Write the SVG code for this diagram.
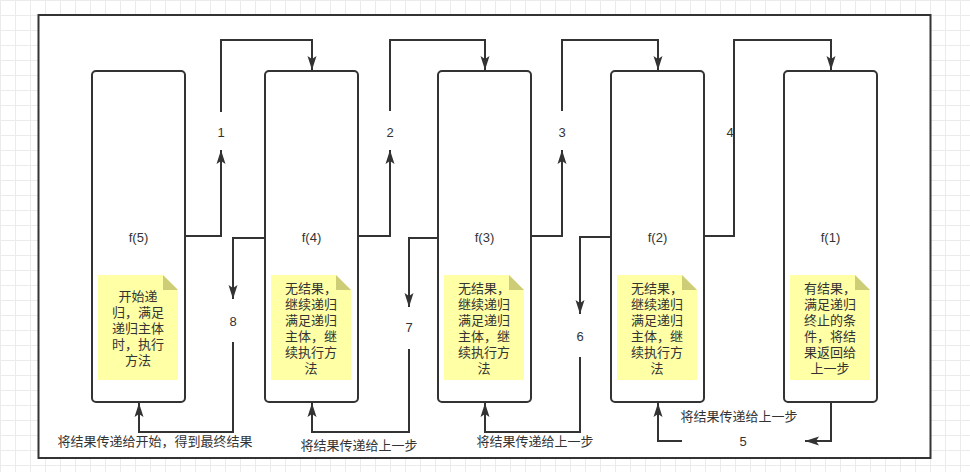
<svg xmlns="http://www.w3.org/2000/svg" width="970" height="472" viewBox="0 0 970 472">
<defs>
<pattern id="grid" width="15" height="15" patternUnits="userSpaceOnUse">
<path d="M0.5,0 V15 M0,0.5 H15" fill="none" stroke="#ebebeb" stroke-width="1"/>
</pattern>
<marker id="arr" viewBox="0 0 15 10" markerWidth="15" markerHeight="10" refX="14" refY="5" orient="auto" markerUnits="userSpaceOnUse">
<path d="M0,0.5 L14,5 L0,9.5 L3,5 Z" fill="#333333"/>
</marker>
</defs>
<style>
.node{fill:#ffffff;stroke:#333333;stroke-width:2}
.note{fill:#ffffa6}
.fold{fill:#cdcd78}
.edge{fill:none;stroke:#333333;stroke-width:2}
.t{font-family:"Liberation Sans","Noto Sans CJK SC",sans-serif;font-size:13px;fill:#333333;text-anchor:middle}
</style>
<rect width="970" height="472" fill="#ffffff"/>
<rect width="970" height="472" fill="url(#grid)"/>
<rect x="38.5" y="15" width="892" height="443" fill="#ffffff" stroke="#333333" stroke-width="2"/>

<g id="f5">
<rect class="node" x="92" y="71" width="93" height="331" rx="4"/>
<text class="t" x="138.5" y="242">f(5)</text>
<path class="note" d="M98,275 H163 L178,290 V380 H98 Z"/>
<path class="fold" d="M163,275 V290 H178 Z"/>
<text class="t" x="138" y="301">开始递</text>
<text class="t" x="138" y="317">归，满足</text>
<text class="t" x="138" y="333">递归主体</text>
<text class="t" x="138" y="349">时，执行</text>
<text class="t" x="138" y="365">方法</text>
</g>

<g id="f4">
<rect class="node" x="265" y="71" width="93" height="331" rx="4"/>
<text class="t" x="311.5" y="242">f(4)</text>
<path class="note" d="M271,275 H336 L351,290 V380 H271 Z"/>
<path class="fold" d="M336,275 V290 H351 Z"/>
<text class="t" x="311" y="293">无结果，</text>
<text class="t" x="311" y="309">继续递归</text>
<text class="t" x="311" y="325">满足递归</text>
<text class="t" x="311" y="341">主体，继</text>
<text class="t" x="311" y="357">续执行方</text>
<text class="t" x="311" y="373">法</text>
</g>

<g id="f3">
<rect class="node" x="438" y="71" width="93" height="331" rx="4"/>
<text class="t" x="484.5" y="242">f(3)</text>
<path class="note" d="M444,275 H509 L524,290 V380 H444 Z"/>
<path class="fold" d="M509,275 V290 H524 Z"/>
<text class="t" x="484" y="293">无结果，</text>
<text class="t" x="484" y="309">继续递归</text>
<text class="t" x="484" y="325">满足递归</text>
<text class="t" x="484" y="341">主体，继</text>
<text class="t" x="484" y="357">续执行方</text>
<text class="t" x="484" y="373">法</text>
</g>

<g id="f2">
<rect class="node" x="611" y="71" width="93" height="331" rx="4"/>
<text class="t" x="657.5" y="242">f(2)</text>
<path class="note" d="M617,275 H682 L697,290 V380 H617 Z"/>
<path class="fold" d="M682,275 V290 H697 Z"/>
<text class="t" x="657" y="293">无结果，</text>
<text class="t" x="657" y="309">继续递归</text>
<text class="t" x="657" y="325">满足递归</text>
<text class="t" x="657" y="341">主体，继</text>
<text class="t" x="657" y="357">续执行方</text>
<text class="t" x="657" y="373">法</text>
</g>

<g id="f1">
<rect class="node" x="784" y="71" width="93" height="331" rx="4"/>
<text class="t" x="830.5" y="242">f(1)</text>
<path class="note" d="M790,275 H855 L870,290 V380 H790 Z"/>
<path class="fold" d="M855,275 V290 H870 Z"/>
<text class="t" x="830" y="293">有结果，</text>
<text class="t" x="830" y="309">满足递归</text>
<text class="t" x="830" y="325">终止的条</text>
<text class="t" x="830" y="341">件，将结</text>
<text class="t" x="830" y="357">果返回给</text>
<text class="t" x="830" y="373">上一步</text>
</g>

<g id="connectors">
<path class="edge" d="M185,236 H221 V150" marker-end="url(#arr)"/>
<path class="edge" d="M221,112 V40 H312 V70" marker-end="url(#arr)"/>
<text class="t" x="221" y="136.5">1</text>

<path class="edge" d="M358,236 H390 V150" marker-end="url(#arr)"/>
<path class="edge" d="M390,111 V40 H485 V70" marker-end="url(#arr)"/>
<text class="t" x="390" y="136.5">2</text>

<path class="edge" d="M531,236 H562 V150" marker-end="url(#arr)"/>
<path class="edge" d="M562,111 V40 H658 V70" marker-end="url(#arr)"/>
<text class="t" x="562" y="136.5">3</text>

<path class="edge" d="M704,236 H734 V40 H831 V70" marker-end="url(#arr)"/>
<text class="t" x="730" y="136.5">4</text>

<path class="edge" d="M831,402 V441 H805" marker-end="url(#arr)"/>
<path class="edge" d="M682,441 H658 V403" marker-end="url(#arr)"/>
<text class="t" x="743" y="445.5">5</text>
<text class="t" x="739" y="420.5">将结果传递给上一步</text>

<path class="edge" d="M611,237 H580 V314" marker-end="url(#arr)"/>
<path class="edge" d="M580,357 V432 H485 V403" marker-end="url(#arr)"/>
<text class="t" x="580" y="340.5">6</text>
<text class="t" x="535" y="445.5">将结果传递给上一步</text>

<path class="edge" d="M438,238 H409 V307" marker-end="url(#arr)"/>
<path class="edge" d="M409,349 V432 H312 V403" marker-end="url(#arr)"/>
<text class="t" x="409" y="332">7</text>
<text class="t" x="359" y="449.5">将结果传递给上一步</text>

<path class="edge" d="M265,238 H233 V299" marker-end="url(#arr)"/>
<path class="edge" d="M233,342 V432 H139 V403" marker-end="url(#arr)"/>
<text class="t" x="233" y="325.5">8</text>
<text class="t" x="155" y="446">将结果传递给开始，得到最终结果</text>
</g>
</svg>
